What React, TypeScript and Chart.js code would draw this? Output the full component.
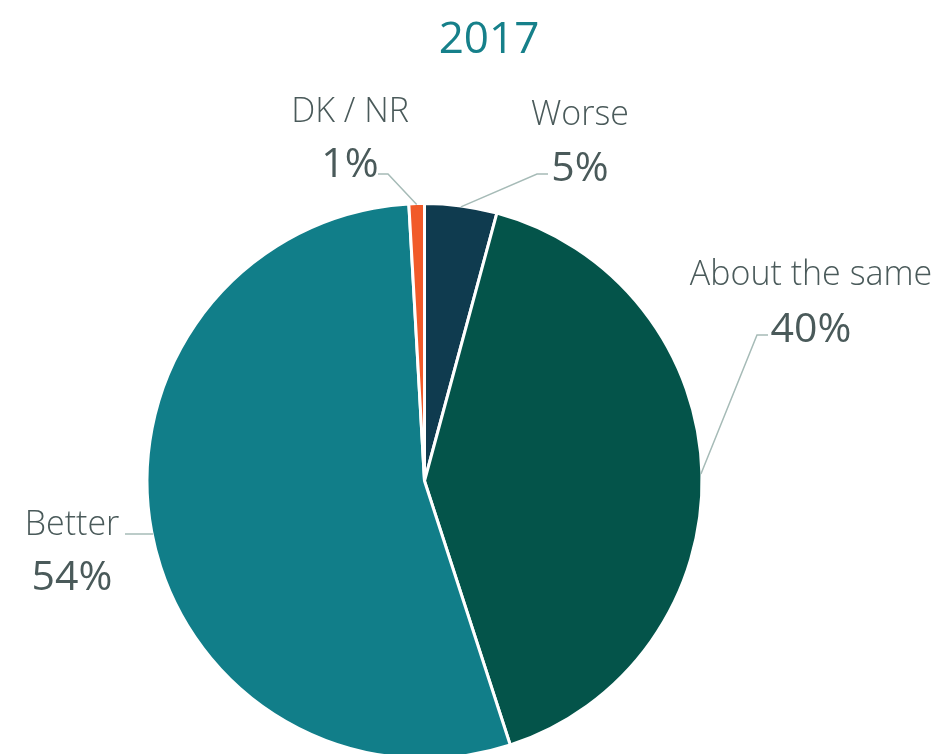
import { useEffect, useRef } from "react";
import { Chart, registerables } from "chart.js";

Chart.register(...registerables);

const title = "2017";
const categories = ["Worse", "About the same", "Better", "DK / NR"];
const values = [4.2, 40.8, 54.1, 0.9];
const valueLabels = ["5%", "40%", "54%", "1%"];
const colors = ["#0F3B4F", "#04544A", "#117E89", "#F15A29"];

// Label layout (positions of text and leader-line elbows)
const labelLayout = [
  { x: 580, nameY: 125, pctY: 181, elbow: [[548, 174], [537, 174]], horiz: false },
  { x: 811, nameY: 285, pctY: 342, elbow: [[768, 335], [757, 335]], horiz: false },
  { x: 72, nameY: 535, pctY: 590, elbow: [[125, 534]], horiz: true },
  { x: 350, nameY: 122, pctY: 177, elbow: [[378, 174], [388, 174]], horiz: false },
];

const TEXT_COLOR = "#4A5A5A";
const LINE_COLOR = "#A6BBB7";
const TITLE_COLOR = "#16808A";
const FONT = "'Open Sans', 'Noto Sans', sans-serif";
const CANVAS_H = 770;

const labelPlugin = {
  id: "pieLabels",
  afterDraw(chart: any) {
    const ctx = chart.ctx;
    const meta = chart.getDatasetMeta(0);
    ctx.save();
    // title
    ctx.fillStyle = TITLE_COLOR;
    ctx.font = `400 44px ${FONT}`;
    ctx.textAlign = "center";
    ctx.textBaseline = "alphabetic";
    ctx.fillText(title, 489, 53);

    meta.data.forEach((arc: any, i: number) => {
      const lay = labelLayout[i];
      const { x, y, outerRadius, startAngle, endAngle } = arc.getProps(
        ["x", "y", "outerRadius", "startAngle", "endAngle"],
        true
      );
      const r = outerRadius - 1;
      const mid = (startAngle + endAngle) / 2;
      let ex = x + Math.cos(mid) * r;
      let ey = y + Math.sin(mid) * r;
      if (lay.horiz) {
        const yy = lay.elbow[lay.elbow.length - 1][1];
        const dy = yy - y;
        const dx = Math.sqrt(Math.max(r * r - dy * dy, 0));
        ex = Math.cos(mid) < 0 ? x - dx : x + dx;
        ey = yy;
      }
      ctx.strokeStyle = LINE_COLOR;
      ctx.lineWidth = 1.5;
      ctx.beginPath();
      ctx.moveTo(lay.elbow[0][0], lay.elbow[0][1]);
      for (let k = 1; k < lay.elbow.length; k++) ctx.lineTo(lay.elbow[k][0], lay.elbow[k][1]);
      ctx.lineTo(ex, ey);
      ctx.stroke();

      ctx.fillStyle = TEXT_COLOR;
      ctx.textAlign = "center";
      ctx.font = `300 34px ${FONT}`;
      ctx.fillText(categories[i], lay.x, lay.nameY);
      ctx.font = `400 41px ${FONT}`;
      ctx.fillText(valueLabels[i], lay.x, lay.pctY);
    });
    ctx.restore();
  },
};

export default function App() {
  const ref = useRef<HTMLCanvasElement | null>(null);
  useEffect(() => {
    if (!ref.current) return;
    const chart = new Chart(ref.current, {
      type: "pie",
      data: {
        labels: categories,
        datasets: [
          {
            data: values,
            backgroundColor: colors,
            borderColor: "#FFFFFF",
            borderWidth: 3,
          },
        ],
      },
      options: {
        responsive: false,
        animation: false,
        layout: { padding: { top: 202, bottom: CANVAS_H - 202 - 558, left: 0, right: 97 } },
        plugins: {
          legend: { display: false },
          tooltip: { enabled: false },
          title: { display: false },
        },
      },
      plugins: [labelPlugin],
    });
    return () => chart.destroy();
  }, []);
  return (
    <div
      style={{
        position: "absolute",
        left: 0,
        top: 0,
        width: 946,
        height: 754,
        overflow: "hidden",
        background: "#FFFFFF",
      }}
    >
      <canvas ref={ref} width={946} height={CANVAS_H} style={{ width: 946, height: CANVAS_H, display: "block" }} />
    </div>
  );
}
